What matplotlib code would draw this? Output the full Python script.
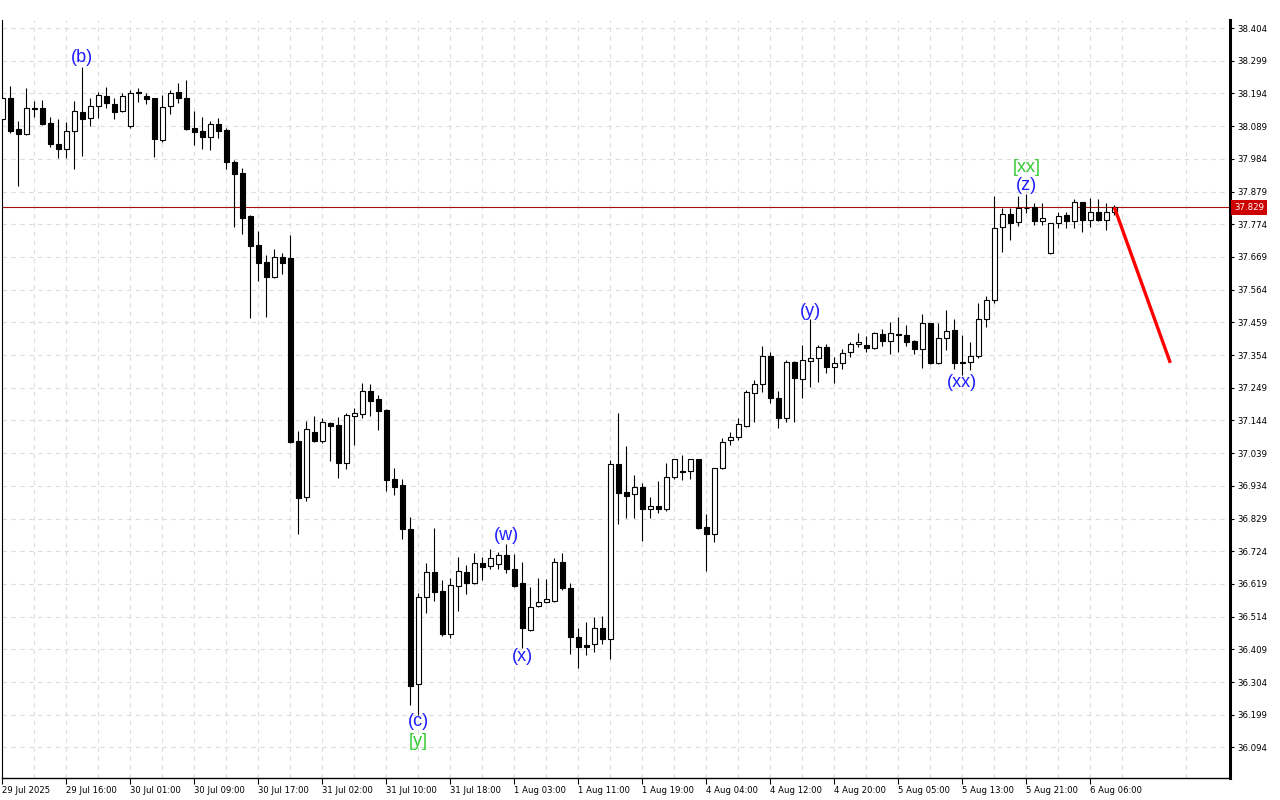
import numpy as np
import matplotlib
matplotlib.use("Agg")
import matplotlib.pyplot as plt
import matplotlib.transforms as mtransforms

# H1 candles, 29 Jul 2025 08:00 -> 6 Aug 2025
opens = [38.111, 38.179, 38.079, 38.063, 38.147, 38.147, 38.098, 38.031, 38.015, 38.074,
         38.136, 38.114, 38.153, 38.186, 38.159, 38.138, 38.090, 38.198, 38.186, 38.179,
         38.045, 38.154, 38.198, 38.179, 38.082, 38.074, 38.055, 38.096, 38.077, 37.973,
         37.938, 37.802, 37.708, 37.652, 37.606, 37.668, 37.665, 37.078, 36.899, 37.106,
         37.079, 37.137, 37.130, 37.009, 37.159, 37.164, 37.240, 37.213, 37.178, 36.956,
         36.937, 36.796, 36.297, 36.576, 36.657, 36.597, 36.457, 36.613, 36.657, 36.621,
         36.685, 36.677, 36.682, 36.712, 36.667, 36.623, 36.471, 36.548, 36.560, 36.565,
         36.689, 36.605, 36.450, 36.423, 36.426, 36.477, 36.441, 37.004, 36.913, 36.907,
         36.930, 36.859, 36.870, 36.859, 36.964, 36.982, 36.982, 37.019, 36.801, 36.779,
         36.990, 37.081, 37.092, 37.127, 37.231, 37.260, 37.351, 37.215, 37.153, 37.331,
         37.276, 37.336, 37.344, 37.379, 37.315, 37.328, 37.363, 37.389, 37.386, 37.376,
         37.422, 37.400, 37.422, 37.419, 37.399, 37.373, 37.456, 37.328, 37.408, 37.435,
         37.333, 37.331, 37.352, 37.469, 37.531, 37.764, 37.806, 37.782, 37.825, 37.829,
         37.786, 37.681, 37.777, 37.804, 37.786, 37.845, 37.788, 37.813, 37.788, 37.813]

highs = [38.192, 38.218, 38.106, 38.211, 38.170, 38.173, 38.118, 38.112, 38.103, 38.170,
         38.278, 38.179, 38.200, 38.214, 38.179, 38.197, 38.205, 38.211, 38.197, 38.181,
         38.189, 38.205, 38.227, 38.237, 38.138, 38.119, 38.106, 38.114, 38.082, 37.981,
         37.954, 37.804, 37.753, 37.675, 37.695, 37.683, 37.740, 37.110, 37.142, 37.158,
         37.151, 37.139, 37.156, 37.167, 37.185, 37.263, 37.261, 37.226, 37.180, 36.990,
         36.955, 36.833, 36.589, 36.685, 36.800, 36.632, 36.639, 36.707, 36.680, 36.719,
         36.707, 36.731, 36.723, 36.746, 36.715, 36.689, 36.610, 36.637, 36.635, 36.701,
         36.718, 36.621, 36.477, 36.498, 36.514, 36.517, 37.017, 37.167, 37.063, 36.969,
         36.942, 36.897, 36.951, 37.008, 37.021, 37.033, 37.021, 37.021, 36.844, 36.992,
         37.087, 37.108, 37.151, 37.242, 37.274, 37.383, 37.363, 37.239, 37.338, 37.335,
         37.386, 37.469, 37.386, 37.389, 37.349, 37.373, 37.397, 37.424, 37.415, 37.429,
         37.437, 37.459, 37.477, 37.451, 37.402, 37.486, 37.458, 37.456, 37.499, 37.469,
         37.419, 37.397, 37.520, 37.544, 37.865, 37.827, 37.825, 37.865, 37.870, 37.843,
         37.841, 37.779, 37.814, 37.814, 37.854, 37.847, 37.858, 37.855, 37.843, 37.836]

lows = [38.103, 38.068, 37.897, 38.060, 38.120, 38.093, 38.021, 37.988, 37.986, 37.951,
        37.994, 38.090, 38.116, 38.148, 38.112, 38.135, 38.082, 38.168, 38.159, 37.991,
        38.038, 38.127, 38.163, 38.078, 38.029, 38.016, 38.013, 38.052, 37.952, 37.766,
        37.742, 37.474, 37.593, 37.477, 37.603, 37.614, 37.071, 36.779, 36.886, 37.076,
        37.071, 37.014, 36.960, 36.988, 37.065, 37.153, 37.159, 37.113, 36.919, 36.905,
        36.762, 36.230, 36.198, 36.525, 36.565, 36.452, 36.445, 36.533, 36.586, 36.618,
        36.632, 36.667, 36.666, 36.655, 36.610, 36.412, 36.468, 36.544, 36.557, 36.562,
        36.600, 36.393, 36.348, 36.391, 36.401, 36.426, 36.377, 36.811, 36.830, 36.832,
        36.758, 36.830, 36.846, 36.854, 36.955, 36.953, 36.956, 36.796, 36.662, 36.753,
        36.988, 37.065, 37.081, 37.124, 37.140, 37.237, 37.201, 37.121, 37.138, 37.140,
        37.215, 37.253, 37.269, 37.296, 37.265, 37.309, 37.349, 37.379, 37.365, 37.373,
        37.383, 37.357, 37.365, 37.384, 37.358, 37.313, 37.326, 37.325, 37.370, 37.308,
        37.290, 37.306, 37.344, 37.444, 37.521, 37.686, 37.724, 37.770, 37.809, 37.772,
        37.772, 37.679, 37.761, 37.761, 37.763, 37.750, 37.766, 37.786, 37.756, 37.804]

closes = [38.179, 38.075, 38.063, 38.147, 38.145, 38.095, 38.031, 38.015, 38.074, 38.138,
          38.113, 38.154, 38.188, 38.164, 38.136, 38.186, 38.197, 38.197, 38.175, 38.047,
          38.152, 38.197, 38.179, 38.080, 38.071, 38.055, 38.095, 38.075, 37.975, 37.937,
          37.793, 37.705, 37.651, 37.606, 37.668, 37.651, 37.076, 36.896, 37.116, 37.079,
          37.138, 37.127, 37.009, 37.162, 37.167, 37.240, 37.208, 37.175, 36.953, 36.931,
          36.796, 36.292, 36.578, 36.657, 36.594, 36.457, 36.616, 36.661, 36.621, 36.685,
          36.674, 36.701, 36.712, 36.666, 36.613, 36.477, 36.546, 36.560, 36.570, 36.689,
          36.605, 36.448, 36.418, 36.418, 36.477, 36.441, 37.003, 36.912, 36.902, 36.930,
          36.859, 36.870, 36.859, 36.964, 37.019, 36.980, 37.019, 36.800, 36.779, 36.990,
          37.076, 37.092, 37.132, 37.234, 37.260, 37.351, 37.215, 37.153, 37.331, 37.280,
          37.338, 37.344, 37.379, 37.315, 37.328, 37.360, 37.390, 37.397, 37.376, 37.424,
          37.400, 37.424, 37.419, 37.397, 37.373, 37.456, 37.328, 37.408, 37.432, 37.328,
          37.328, 37.352, 37.469, 37.531, 37.761, 37.806, 37.779, 37.825, 37.827, 37.786,
          37.793, 37.777, 37.802, 37.786, 37.845, 37.788, 37.813, 37.788, 37.813, 37.829]

time_labels = ["29 Jul 2025", "29 Jul 16:00", "30 Jul 01:00", "30 Jul 09:00", "30 Jul 17:00",
               "31 Jul 02:00", "31 Jul 10:00", "31 Jul 18:00", "1 Aug 03:00", "1 Aug 11:00",
               "1 Aug 19:00", "4 Aug 04:00", "4 Aug 12:00", "4 Aug 20:00", "5 Aug 05:00",
               "5 Aug 13:00", "5 Aug 21:00", "6 Aug 06:00"]
label_step = 8

price_ticks = [36.094, 36.199, 36.304, 36.409, 36.514, 36.619, 36.724, 36.829, 36.934,
               37.039, 37.144, 37.249, 37.354, 37.459, 37.564, 37.669, 37.774, 37.879,
               37.984, 38.089, 38.194, 38.299, 38.404]

# wave marks: text, bar, price, colour
wave_text = ["(b)", "(c)", "[y]", "(w)", "(x)", "(y)", "(xx)", "[xx]", "(z)"]
wave_bar = [10, 52, 52, 63, 65, 101, 120, 128, 128]
wave_price = [38.308, 36.176, 36.112, 36.776, 36.385, 37.495, 37.265, 37.955, 37.897]
wave_col = ["blue", "blue", "green", "blue", "blue", "blue", "blue", "green", "blue"]

# forecast arrow
proj_bar = [139, 146]
proj_price = [37.829, 37.329]

BLUE = "#1c1cff"
GREEN = "#33cc33"
AXFONT = "DejaVu Sans"

fig = plt.figure(figsize=(12.8, 8), dpi=100)
ax = fig.add_axes([2 / 1280, 22 / 800, 1228 / 1280, 758 / 800])

n = len(opens)
x = np.arange(n)
o = np.array(opens)
c = np.array(closes)
up = c >= o

ax.vlines(x, lows, highs, color="black", lw=0.8, zorder=2)
ax.bar(x, np.abs(c - o), bottom=np.minimum(o, c), width=0.62,
       color=np.where(up, "white", "black"), edgecolor="black", linewidth=0.8, zorder=3)

# last price line + label
ax.axhline(closes[-1], color="#a81010", lw=0.8, zorder=1)
trans = mtransforms.blended_transform_factory(ax.transAxes, ax.transData)
ax.text(1.0035, closes[-1], f"{closes[-1]:.3f}", transform=trans, ha="left", va="center",
        color="white", fontsize=6.2, family=AXFONT,
        bbox=dict(boxstyle="square,pad=0.35", fc="#cc0000", ec="none"), clip_on=False, zorder=10)

ax.plot(proj_bar, proj_price, color="#ff0000", lw=2.4, solid_capstyle="butt", zorder=5)

for t, b, p, col in zip(wave_text, wave_bar, wave_price, wave_col):
    ax.text(b, p, t, ha="center", va="center", fontsize=13, family="Liberation Sans",
            color=BLUE if col == "blue" else GREEN, zorder=6)

ax.set_xlim(-0.04, 153.46)
ax.set_ylim(35.996, 38.430)

ax.set_xticks(np.arange(len(time_labels)) * label_step)
ax.set_xticklabels(time_labels)
ax.set_xticks(np.arange(4, 154, 8), minor=True)
for lbl in ax.get_xticklabels():
    lbl.set_ha("left")
ax.tick_params(axis="x", which="major", direction="out", length=4, width=0.8, pad=2,
               labelsize=6.1)
ax.tick_params(axis="x", which="minor", length=0)

ax.yaxis.tick_right()
ax.set_yticks(price_ticks)
ax.set_yticklabels([f"{v:.3f}" for v in price_ticks])
ax.tick_params(axis="y", direction="out", length=3, width=0.8, pad=2, labelsize=6.2)
for lbl in ax.get_xticklabels() + ax.get_yticklabels():
    lbl.set_family(AXFONT)

ax.grid(True, which="both", axis="x", color="#dcdcdc", ls=(0, (4, 4)), lw=0.8)
ax.grid(True, which="major", axis="y", color="#dcdcdc", ls=(0, (4, 4)), lw=0.8)
ax.set_axisbelow(True)

ax.spines["top"].set_visible(False)
ax.spines["left"].set_linewidth(0.8)
ax.spines["bottom"].set_linewidth(1.0)
ax.spines["right"].set_linewidth(2.2)

fig.savefig("out.png", dpi=100, facecolor="white")
